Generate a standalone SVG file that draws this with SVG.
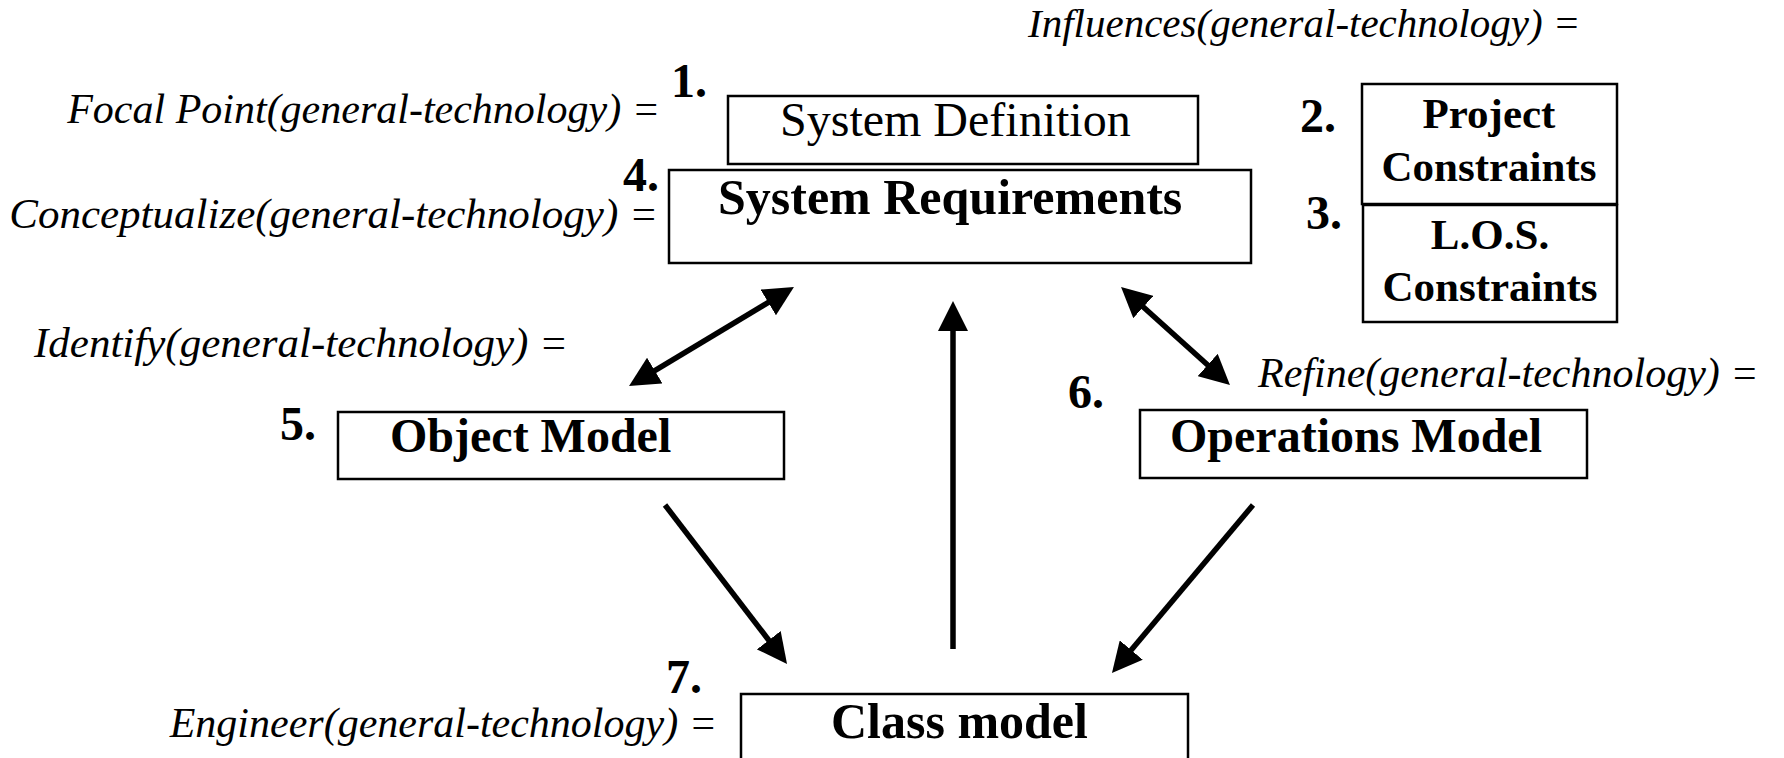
<svg xmlns="http://www.w3.org/2000/svg" width="1784" height="758" viewBox="0 0 1784 758">
  <style>
    .box { fill: #ffffff; stroke: #000000; stroke-width: 2.5; }
    .lbl { font-family: "Liberation Serif", "Times New Roman", serif; font-style: italic; font-size: 42px; fill: #000; }
    .num { font-family: "Liberation Serif", "Times New Roman", serif; font-weight: bold; font-size: 48px; fill: #000; }
    .title { font-family: "Liberation Serif", "Times New Roman", serif; font-weight: bold; font-size: 50px; fill: #000; }
    .small { font-family: "Liberation Serif", "Times New Roman", serif; font-weight: bold; font-size: 43px; fill: #000; text-anchor: middle; }
    .plain { font-family: "Liberation Serif", "Times New Roman", serif; font-size: 48px; fill: #000; }
    .conn { stroke: #000000; stroke-width: 5.5; fill: none; }
  </style>
  <defs>
    <marker id="head" markerUnits="userSpaceOnUse" markerWidth="30" markerHeight="30" refX="15" refY="15" orient="auto-start-reverse">
      <path d="M0,0 L30,15 L0,30 Z" fill="#000000"/>
    </marker>
  </defs>
  <rect width="1784" height="758" fill="#ffffff"/>

  <!-- free-standing relation labels -->
  <text class="lbl" x="1028" y="37" style="font-size:41px">Influences(general-technology) =</text>
  <text class="lbl" x="660" y="123" text-anchor="end">Focal Point(general-technology) =</text>
  <text class="lbl" x="658" y="228" text-anchor="end" style="font-size:43px">Conceptualize(general-technology) =</text>
  <text class="lbl" x="34" y="357" style="font-size:43px">Identify(general-technology) =</text>
  <text class="lbl" x="1258" y="387">Refine(general-technology) =</text>
  <text class="lbl" x="717" y="737" text-anchor="end">Engineer(general-technology) =</text>

  <g id="system-definition">
    <rect class="box" x="728" y="96" width="470" height="68"/>
    <text class="num" x="671" y="97">1.</text>
    <text class="plain" x="780" y="136">System Definition</text>
  </g>

  <g id="project-constraints">
    <rect class="box" x="1362" y="84" width="255" height="120"/>
    <text class="num" x="1300" y="132">2.</text>
    <text class="small" x="1489" y="128">Project</text>
    <text class="small" x="1489" y="181">Constraints</text>
  </g>

  <g id="los-constraints">
    <rect class="box" x="1363" y="205" width="254" height="117"/>
    <text class="num" x="1306" y="229">3.</text>
    <text class="small" x="1490" y="249">L.O.S.</text>
    <text class="small" x="1490" y="301">Constraints</text>
  </g>

  <g id="system-requirements">
    <rect class="box" x="669" y="170" width="582" height="93"/>
    <text class="num" x="623" y="191">4.</text>
    <text class="title" x="718" y="214">System Requirements</text>
  </g>

  <g id="object-model">
    <rect class="box" x="338" y="412" width="446" height="67"/>
    <text class="num" x="280" y="440">5.</text>
    <text class="title" x="390" y="452" style="font-size:48px">Object Model</text>
  </g>

  <g id="operations-model">
    <rect class="box" x="1140" y="410" width="447" height="68"/>
    <text class="num" x="1068" y="408">6.</text>
    <text class="title" x="1170" y="452" style="font-size:48px">Operations Model</text>
  </g>

  <g id="class-model">
    <rect class="box" x="741" y="694" width="447" height="100"/>
    <text class="num" x="666" y="693">7.</text>
    <text class="title" x="831" y="738">Class model</text>
  </g>

  <g id="connectors">
    <line class="conn" x1="641.9" y1="378.3" x2="781.1" y2="294.7" marker-start="url(#head)" marker-end="url(#head)"/>
    <line class="conn" x1="953" y1="649" x2="953" y2="316" marker-end="url(#head)"/>
    <line class="conn" x1="1132.2" y1="297" x2="1218.8" y2="375" marker-start="url(#head)" marker-end="url(#head)"/>
    <line class="conn" x1="665" y1="505" x2="777.9" y2="652.1" marker-end="url(#head)"/>
    <line class="conn" x1="1253" y1="505" x2="1121.6" y2="661.5" marker-end="url(#head)"/>
  </g>
</svg>
